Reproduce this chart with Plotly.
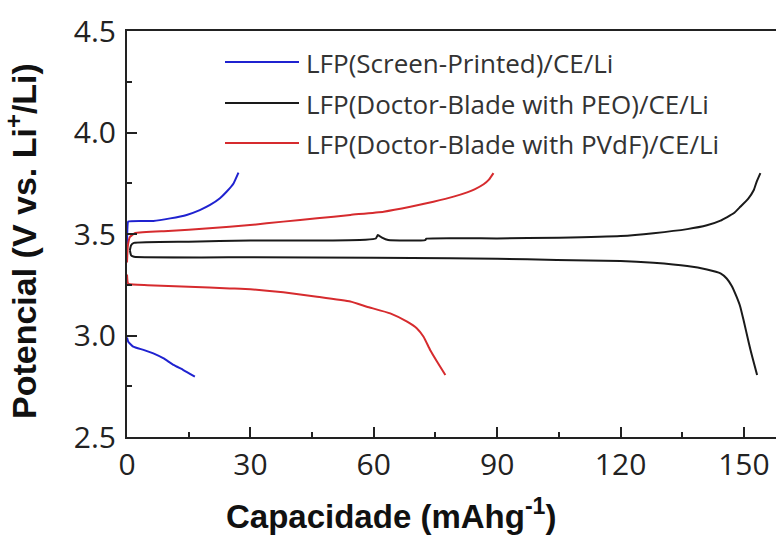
import plotly.graph_objects as go

# Galvanostatic charge/discharge profiles (capacity in mAh/g, potential in V)
sp_charge_cap = [0.0, 0.1, 0.3, 6.4, 10.5, 14.5, 17.7, 20.2, 22.6, 24.2, 25.9, 27.1]
sp_charge_v = [3.45, 3.53, 3.561, 3.564, 3.577, 3.594, 3.618, 3.643, 3.676, 3.708, 3.749, 3.802]
sp_dis_cap = [0.0, 0.3, 1.5, 4.0, 6.4, 8.8, 11.3, 13.7, 16.5]
sp_dis_v = [2.99, 2.969, 2.945, 2.929, 2.912, 2.888, 2.855, 2.830, 2.797]

peo_charge_cap = [0.7, 1.0, 1.7, 15, 30, 45, 58, 60.5, 61.0, 62.0, 63.5, 72.5, 72.8, 90, 105,
                  120, 128, 136.2, 141, 144.3, 147.5, 149.1, 151.1, 152.4, 153.1, 154.0]
peo_charge_v = [3.42, 3.445, 3.456, 3.462, 3.468, 3.468, 3.472, 3.478, 3.495, 3.482, 3.470, 3.470,
                3.477, 3.478, 3.482, 3.490, 3.504, 3.524, 3.543, 3.566, 3.602, 3.634, 3.676,
                3.717, 3.758, 3.80]
peo_dis_cap = [0.7, 1.0, 1.7, 30, 60, 78.6, 90, 104.5, 120, 128, 136.2, 141, 144.3, 145.8,
               147.0, 148.2, 149.1, 149.9, 151.2, 152.0, 153.2]
peo_dis_v = [3.42, 3.395, 3.388, 3.385, 3.383, 3.380, 3.378, 3.372, 3.367, 3.358, 3.342, 3.325,
             3.306, 3.281, 3.245, 3.191, 3.142, 3.076, 2.962, 2.896, 2.805]

pvdf_charge_cap = [0.0, 0.2, 0.7, 2.0, 10, 20, 29.9, 38.0, 46.2, 54.3, 62.4, 68.9, 74.5, 79.4,
                   82.7, 84.5, 86.7, 88.0, 89.1]
pvdf_charge_v = [3.36, 3.44, 3.485, 3.505, 3.515, 3.528, 3.544, 3.561, 3.577, 3.594, 3.610,
                 3.634, 3.659, 3.684, 3.705, 3.720, 3.745, 3.768, 3.80]
pvdf_dis_cap = [0.0, 0.3, 5, 15, 25, 30, 38.0, 46.2, 54.3, 58.3, 64.0, 68.1, 70.5, 72.1, 73.7,
                75.4, 77.4]
pvdf_dis_v = [3.30, 3.255, 3.248, 3.240, 3.232, 3.228, 3.213, 3.191, 3.167, 3.142, 3.109,
              3.068, 3.035, 2.994, 2.929, 2.871, 2.805]

series_names = ["LFP(Screen-Printed)/CE/Li",
                "LFP(Doctor-Blade with PEO)/CE/Li",
                "LFP(Doctor-Blade with PVdF)/CE/Li"]
series_colors = ["#1f22d0", "#1a1a1a", "#d62b2e"]

W, H = 776, 535
L, R, T, B = 127, 0, 31, 98
pw, ph = W - L - R, H - T - B
X_RANGE = [0, pw / 4.113]
Y_RANGE = [2.5, 4.5]
AXIS_COLOR = "#222222"


def px(x):
    return (x - L) / pw


def py(y):
    return (H - B - y) / ph


fig = go.Figure()
curves = [
    (sp_charge_cap, sp_charge_v, 0), (sp_dis_cap, sp_dis_v, 0),
    (peo_charge_cap, peo_charge_v, 1), (peo_dis_cap, peo_dis_v, 1),
    (pvdf_charge_cap, pvdf_charge_v, 2), (pvdf_dis_cap, pvdf_dis_v, 2),
]
for cx, cy, k in curves:
    fig.add_trace(go.Scatter(x=cx, y=cy, mode="lines", name=series_names[k],
                             line=dict(color=series_colors[k], width=2, shape="spline",
                                       smoothing=0.4),
                             showlegend=False))

# Legend drawn as key lines + labels
legend_rows = [62, 103, 143]
shapes = []
annotations = []
for k, row in enumerate(legend_rows):
    shapes.append(dict(type="line", xref="paper", yref="paper",
                       x0=px(225), x1=px(299), y0=py(row), y1=py(row),
                       line=dict(color=series_colors[k], width=2)))
    annotations.append(dict(xref="paper", yref="paper", x=px(304), y=py(row + 1),
                            xanchor="left", yanchor="middle", showarrow=False,
                            text=series_names[k],
                            font=dict(family="Open Sans", size=26, color="#333333")))

# Axis titles
annotations.append(dict(xref="paper", yref="paper", x=px(391), y=py(537),
                        xanchor="center", yanchor="bottom", showarrow=False,
                        text="<b>Capacidade (mAhg<sup>-1</sup>)</b>",
                        font=dict(family="Liberation Sans", size=33, color="#111111")))
annotations.append(dict(xref="paper", yref="paper", x=px(22), y=py(241),
                        xanchor="center", yanchor="middle", showarrow=False, textangle=-90,
                        text="<b>Potencial (V vs. Li<sup>+</sup>/Li)</b>",
                        font=dict(family="Liberation Sans", size=34, color="#111111")))

fig.update_layout(
    width=W, height=H,
    margin=dict(l=L, r=R, t=T, b=B),
    paper_bgcolor="white", plot_bgcolor="white",
    shapes=shapes, annotations=annotations,
    showlegend=False,
)
fig.update_xaxes(
    range=X_RANGE, tick0=0, dtick=30,
    showgrid=False, zeroline=False, showline=True, linecolor=AXIS_COLOR, linewidth=2,
    mirror=True, ticks="inside", ticklen=10, tickwidth=2, tickcolor=AXIS_COLOR,
    minor=dict(ticks="inside", ticklen=5, tickwidth=2, tickcolor=AXIS_COLOR, dtick=15),
    tickfont=dict(family="Open Sans", size=30, color="#222222"),
)
fig.update_yaxes(
    range=Y_RANGE, tick0=2.5, dtick=0.5, tickformat=".1f",
    showgrid=False, zeroline=False, showline=True, linecolor=AXIS_COLOR, linewidth=2,
    ticks="inside", ticklen=10, tickwidth=2, tickcolor=AXIS_COLOR,
    minor=dict(ticks="inside", ticklen=5, tickwidth=2, tickcolor=AXIS_COLOR, dtick=0.25),
    tickfont=dict(family="Open Sans", size=30, color="#222222"),
    ticklabelstandoff=3,
)

fig.write_html("out.html")
